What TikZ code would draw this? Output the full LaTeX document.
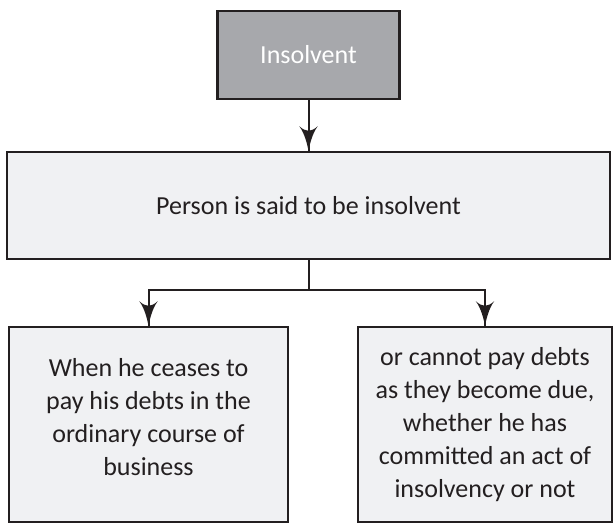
\documentclass[tikz,border=0pt]{standalone}
\usepackage{fontspec}
\setmainfont{Carlito}
\usepackage{tikz}
\usetikzlibrary{arrows}
\usetikzlibrary{decorations.markings}
\definecolor{boxline}{HTML}{231F20}
\definecolor{headfill}{HTML}{A7A8AC}
\definecolor{boxfill}{HTML}{F0F1F3}
\tikzset{->/.style = {decoration={markings,
                                  mark=at position 1 with {\arrow[scale=2.8]{latex'}}},
                      postaction={decorate}}}
\tikzset{box/.style = {draw=boxline, line width=2.4pt, fill=boxfill, text=boxline,
                       align=center, inner sep=0pt,
                       font=\fontsize{26}{33}\selectfont},
         link/.style = {draw=boxline, line width=2pt}}

\begin{document}
\begin{tikzpicture}[x=1pt, y=-1pt]
    \useasboundingbox (0, 0) rectangle (613, 524);
    \node (insolvent) at (308.5, 55) [box, fill=headfill, text=white,
      minimum width=182pt, minimum height=88pt] {Insolvent};
    \node (person) at (308.5, 205.5) [box, minimum width=603pt,
      minimum height=107pt] {Person is said to be insolvent};
    \node (ceases) at (148.5, 424.5) [box, minimum width=279pt,
      minimum height=195pt] {When he ceases to\\ pay his debts in the\\
      ordinary course of\\ business\\[-17pt]};
    \node (cannot) at (485, 424.5) [box, minimum width=254pt,
      minimum height=195pt] {or cannot pay debts\\ as they become due,\\
      whether he has\\ committed an act of\\ insolvency or not};
    \draw [link, ->] (insolvent) -- (person);
    \draw [link] (person) -- (308.5, 289.5) coordinate (fork);
    \draw [link, ->] (fork) -| (ceases);
    \draw [link, ->] (fork) -| (cannot);
  \end{tikzpicture}
\end{document}
